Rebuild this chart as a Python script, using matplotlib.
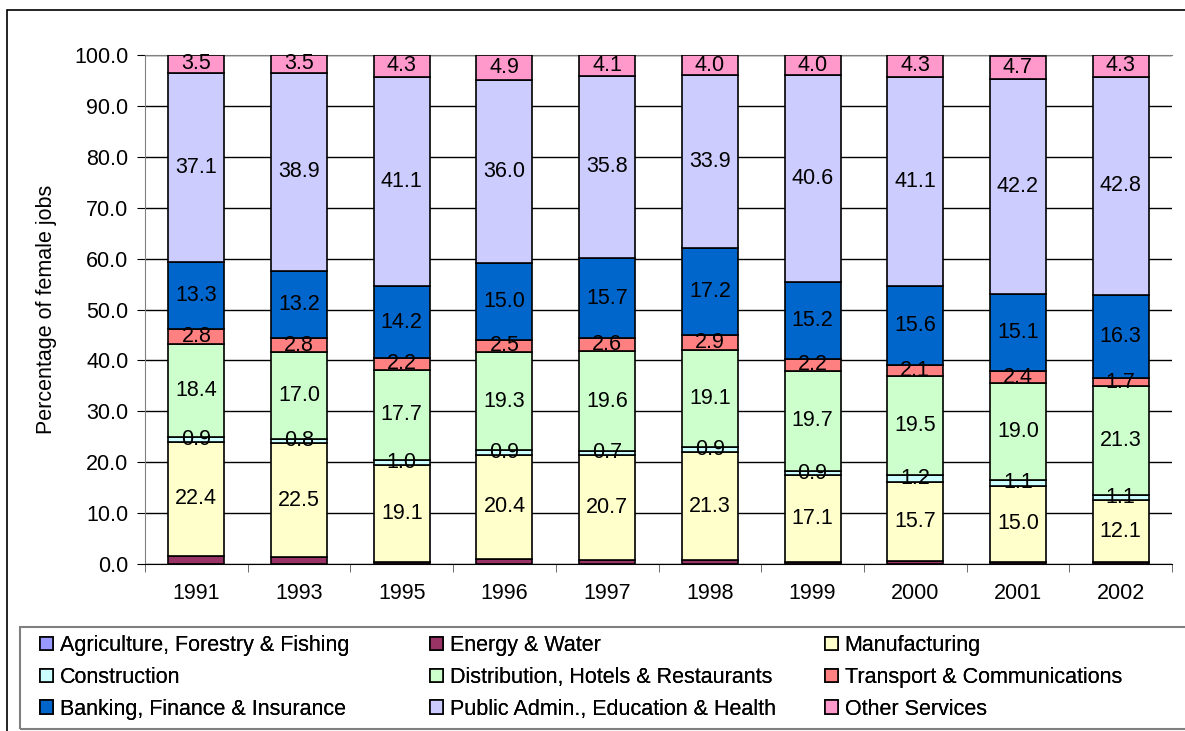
import matplotlib.pyplot as plt
import numpy as np
from matplotlib.patches import Rectangle

plt.rcParams['font.family'] = ['Liberation Sans', 'DejaVu Sans']

# data
years = ['1991', '1993', '1995', '1996', '1997', '1998', '1999', '2000', '2001', '2002']
agriculture = [0.0, 0.0, 0.0, 0.0, 0.0, 0.0, 0.0, 0.0, 0.0, 0.0]
energy = [1.6, 1.3, 0.4, 1.0, 0.8, 0.7, 0.3, 0.5, 0.4, 0.4]
manufacturing = [22.4, 22.5, 19.1, 20.4, 20.7, 21.3, 17.1, 15.7, 15.0, 12.1]
construction = [0.9, 0.8, 1.0, 0.9, 0.7, 0.9, 0.9, 1.2, 1.1, 1.1]
distribution = [18.4, 17.0, 17.7, 19.3, 19.6, 19.1, 19.7, 19.5, 19.0, 21.3]
transport = [2.8, 2.8, 2.2, 2.5, 2.6, 2.9, 2.2, 2.1, 2.4, 1.7]
banking = [13.3, 13.2, 14.2, 15.0, 15.7, 17.2, 15.2, 15.6, 15.1, 16.3]
public = [37.1, 38.9, 41.1, 36.0, 35.8, 33.9, 40.6, 41.1, 42.2, 42.8]
other = [3.5, 3.5, 4.3, 4.9, 4.1, 4.0, 4.0, 4.3, 4.7, 4.3]

series = [
    ('Agriculture, Forestry & Fishing', agriculture, '#9999FF', False),
    ('Energy & Water', energy, '#993366', False),
    ('Manufacturing', manufacturing, '#FFFFCC', True),
    ('Construction', construction, '#CCFFFF', True),
    ('Distribution, Hotels & Restaurants', distribution, '#CCFFCC', True),
    ('Transport & Communications', transport, '#FF8080', True),
    ('Banking, Finance & Insurance', banking, '#0066CC', True),
    ('Public Admin., Education & Health', public, '#CCCCFF', True),
    ('Other Services', other, '#FF99CC', True),
]

fs = 15.5
fig = plt.figure(figsize=(11.85, 7.31), dpi=100)
W, H = 1185, 731

# outer chart frame (runs off right and bottom edges) and legend frame
fig.patches.append(Rectangle((7 / W, -0.1), 1.2, 1.1 - 10 / H, transform=fig.transFigure,
                             fill=False, edgecolor='black', linewidth=1.2))
fig.patches.append(Rectangle((20 / W, 1 - 729 / H), 1.2, 102 / H, transform=fig.transFigure,
                             fill=False, edgecolor='#808080', linewidth=1.5))
ax = fig.add_axes([145 / W, 1 - 564 / H, (1172 - 145) / W, (564 - 55) / H])

x = np.arange(len(years))
bottom = np.zeros(len(years))
handles = []
for name, vals, col, lab in series:
    vals = np.array(vals)
    bars = ax.bar(x, vals, 0.545, bottom=bottom, color=col, edgecolor='black',
                  linewidth=1.2, label=name, zorder=3)
    handles.append(bars)
    if lab:
        for xi, b, v in zip(x, bottom, vals):
            ax.text(xi, b + v / 2, f'{v:.1f}', ha='center', va='center',
                    fontsize=fs, zorder=4)
    bottom += vals

ax.set_xlim(-0.5, len(years) - 0.5)
ax.set_ylim(0, 100)
ax.set_yticks(np.arange(0, 101, 10))
ax.set_yticklabels([f'{v:.1f}' for v in np.arange(0, 101, 10)], fontsize=fs)
ax.yaxis.grid(True, color='black', linewidth=1)
ax.set_axisbelow(True)
ax.set_xticks(x)
ax.set_xticklabels(years, fontsize=fs)
ax.set_xticks(np.arange(-0.5, len(years), 1), minor=True)
ax.tick_params(axis='x', which='major', length=0, pad=14)
ax.tick_params(axis='x', which='minor', length=6, direction='out', color='#555555')
ax.tick_params(axis='y', length=6, direction='out', color='black', pad=6)
ax.set_ylabel('Percentage of female jobs', fontsize=fs, labelpad=12)
ax.spines['right'].set_visible(False)
ax.spines['top'].set_color('#808080')
ax.spines['left'].set_color('#808080')
ax.spines['bottom'].set_color('black')

# legend: three columns, placed one by one
col_x = [23, 413, 808]
cols = [[0, 3, 6], [1, 4, 7], [2, 5, 8]]
for cx, idx in zip(col_x, cols):
    leg = fig.legend([handles[i] for i in idx], [series[i][0] for i in idx],
                     loc='upper left', bbox_to_anchor=(cx / W, 1 - 618 / H),
                     fontsize=fs, frameon=False, handlelength=0.6, handleheight=0.6,
                     handletextpad=0.3, labelspacing=0.5, borderpad=0.3)
    fig.add_artist(leg)

fig.savefig('out.png', dpi=100)
